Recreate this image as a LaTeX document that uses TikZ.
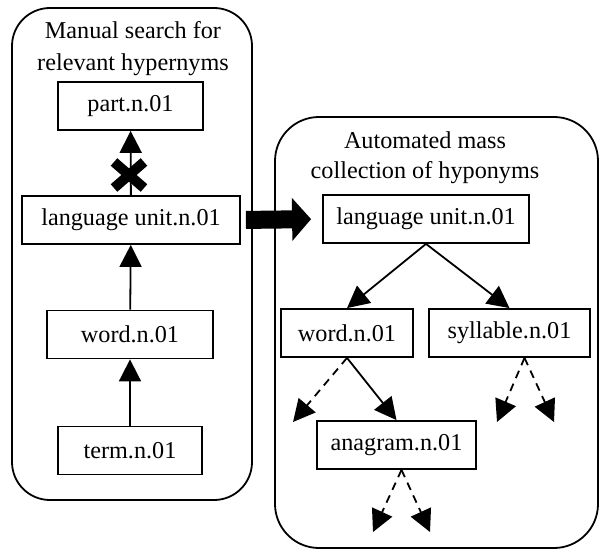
\documentclass[tikz,border=0pt]{standalone}
\usepackage{fontspec}
\setmainfont{Liberation Serif}
\usetikzlibrary{arrows.meta, positioning}

\begin{document}
\begin{tikzpicture}[
        x=0.5pt, y=-0.5pt,
        font=\fontsize{12.1}{16}\selectfont,
        synset/.style={draw, line width=0.9pt, inner sep=0pt, minimum height=24pt},
        panel/.style={draw, line width=0.9pt, inner sep=0pt},
        arrow/.style={-{Triangle[length=11pt, width=11pt]}, line width=0.9pt},
        guess/.style={arrow, dash pattern=on 4pt off 3pt},
        bigarrow/.style={-{Triangle[length=9.5pt, width=21pt]}, line width=9pt}
    ]
    \useasboundingbox (0,0) rectangle (599,550);

    % Panels
    \node [panel, rounded corners=19pt, minimum width=120pt, minimum height=246pt] (manual) at (132,254) {};
    \node [panel, rounded corners=22pt, minimum width=161.5pt, minimum height=215.5pt] (auto) at (436.5,332.5) {};
    \node [align=center] (manualtitle) at (133,49) {Manual search for\\relevant hypernyms};
    \node [align=center, font=\fontsize{12.1}{15}\selectfont] (autotitle) at (425,158) {Automated mass\\collection of hyponyms};

    % Hypernym chain
    \node [synset, minimum width=72.5pt] (part) at (130.5,106) {part.n.01};
    \node [synset, minimum width=109pt] (lul) at (131,220) {language unit.n.01};
    \node [synset, minimum width=83pt] (wordl) at (130,334.5) {word.n.01};
    \node [synset, minimum width=72pt] (term) at (130,450.5) {term.n.01};

    % Hyponym tree
    \node [synset, minimum width=103pt] (lur) at (426,219) {language unit.n.01};
    \node [synset, minimum width=66pt] (wordr) at (347,333) {word.n.01};
    \node [synset, minimum width=80.5pt] (syll) at (509.5,333) {syllable.n.01};
    \node [synset, minimum width=79.5pt] (anagram) at (396.5,445) {anagram.n.01};

    % Upward links
    \draw[arrow] (term) -- (wordl);
    \draw[arrow] (wordl) -- (lul);
    \draw[arrow] (lul) -- (part);
    \coordinate (nolink) at (129,175);
    \draw[line width=5pt] ([shift={(-15,-13)}]nolink) -- ([shift={(15,13)}]nolink);
    \draw[line width=5pt] ([shift={(15,-13)}]nolink) -- ([shift={(-15,13)}]nolink);

    % Hand-over
    \draw[bigarrow, shorten <=2.5pt, shorten >=5.5pt] (lul.east) -- (lur.west);

    % Downward links
    \draw[arrow] (lur.south) -- (wordr.north);
    \draw[arrow] (lur.south) -- (syll.north);
    \draw[arrow] (wordr.south) -- (anagram.north);

    % Further hyponyms
    \coordinate (syllfork) at ([xshift=7.5pt]syll.south);
    \coordinate (anafork) at ([xshift=2.5pt]anagram.south);
    \coordinate (wordnext) at (293,422);
    \coordinate (syllnexta) at (497,422);
    \coordinate (syllnextb) at (554,422);
    \coordinate (ananexta) at (373,532);
    \coordinate (ananextb) at (430,532);
    \draw[guess] (wordr.south) -- (wordnext);
    \draw[guess] (syllfork) -- (syllnexta);
    \draw[guess] (syllfork) -- (syllnextb);
    \draw[guess] (anafork) -- (ananexta);
    \draw[guess] (anafork) -- (ananextb);

\end{tikzpicture}
\end{document}
